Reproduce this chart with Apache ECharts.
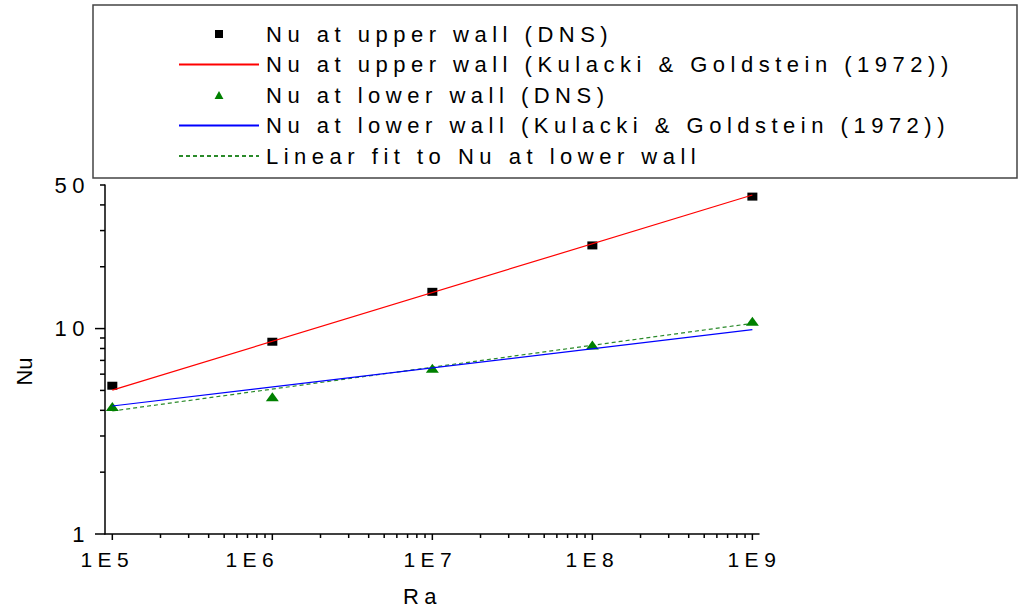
<!DOCTYPE html>
<html><head><meta charset="utf-8">
<script src="https://cdn.jsdelivr.net/npm/echarts@6/dist/echarts.min.js"></script>
<style>
html,body{margin:0;padding:0;background:#fff;}
#chart{width:1019px;height:612px;}
#chart text{letter-spacing:5.5px;}
</style></head><body><div id="chart"></div>
<script>
// ---- data ----
const raValues   = [1e5, 1e6, 1e7, 1e8, 1e9];
const nuUpperDNS = [5.27, 8.63, 15.1, 25.4, 43.9];
const nuLowerDNS = [4.17, 4.66, 6.41, 8.32, 10.85];
const kgRa       = [1e5, 1e9];
const nuUpperKG  = [5.02, 44.7];
const nuLowerKG  = [4.2, 9.88];
const fitRa      = [1e5, 1e9];
const nuLowerFit = [3.97, 10.6];

const seriesNames = [
  'Nu at upper wall (DNS)',
  'Nu at upper wall (Kulacki & Goldstein (1972))',
  'Nu at lower wall (DNS)',
  'Nu at lower wall (Kulacki & Goldstein (1972))',
  'Linear fit to Nu at lower wall'
];

// ---- axis ticks / labels ----
const xTickValues = [1e5, 1e6, 1e7, 1e8, 1e9];
const xTickLabels = ['1E5', '1E6', '1E7', '1E8', '1E9'];
const xLabelStyleKeys = ['a', 'b', 'c', 'd', 'e'];
const yTickValues = [1, 10, 50];
const yTickLabels = ['1', '10', '50'];
const xMinorMantissa = [2, 3, 4, 5, 6, 7, 8, 9];
const xMinorDecades = [1e5, 1e6, 1e7, 1e8];
const yMajorTicks = [1, 10];
const yMinorTicks = [2, 3, 4, 5, 6, 7, 8, 9, 20, 30, 40, 50];

const X_MIN = 9e4, X_MAX = 1.1e9, Y_MIN = 1, Y_MAX = 50;
const FONT = 'Liberation Sans, Arial, sans-serif';

function pairs(xs, ys) { return xs.map((x, i) => [x, ys[i]]); }
function findIndex(vals, v) {
  for (let i = 0; i < vals.length; i++) {
    if (Math.abs(v - vals[i]) / vals[i] < 1e-6) return i;
  }
  return -1;
}

const xTickData = [];
xTickValues.forEach(v => xTickData.push([v, Y_MIN, 6]));
xMinorDecades.forEach(d => xMinorMantissa.forEach(m => xTickData.push([m * d, Y_MIN, 4])));
const yTickData = [];
yMajorTicks.forEach(v => yTickData.push([X_MIN, v, 10]));
yMinorTicks.forEach(v => yTickData.push([X_MIN, v, 5]));

const xLabelBase = {fontSize: 21, color: '#000', fontFamily: FONT};
const xLabelRich = {
  a: Object.assign({padding: [0, 10, 0, 0]}, xLabelBase),
  b: Object.assign({padding: [0, 40, 0, 0]}, xLabelBase),
  c: Object.assign({padding: [0, 4, 0, 0]}, xLabelBase),
  d: Object.assign({padding: [0, 0, 0, 0]}, xLabelBase),
  e: Object.assign({padding: [0, 0, 0, 4]}, xLabelBase)
};

const SQUARE_ICON = 'path://M0,0L10,0L10,10L0,10Z';
const TRIANGLE_ICON = 'path://M5,0L10,9L0,9Z';
const hiddenSymbol = {color: 'rgba(0,0,0,0)', opacity: 0, borderWidth: 0};

const chart = echarts.init(document.getElementById('chart'), null, {renderer: 'svg'});
chart.setOption({
  animation: false,
  backgroundColor: '#fff',
  textStyle: {fontFamily: FONT},
  grid: {left: 105, right: 260, top: 185, bottom: 78},
  graphic: [{
    type: 'rect', z: -10,
    shape: {x: 93, y: 5, width: 924, height: 173},
    style: {fill: 'none', stroke: '#444', lineWidth: 1.5}
  }],
  legend: {
    orient: 'vertical', left: 178, top: 23, padding: 0,
    itemWidth: 80, itemHeight: 8, itemGap: 8.5,
    symbolKeepAspect: true,
    data: [
      {name: seriesNames[0], icon: SQUARE_ICON},
      {name: seriesNames[1], itemStyle: hiddenSymbol},
      {name: seriesNames[2], icon: TRIANGLE_ICON},
      {name: seriesNames[3], itemStyle: hiddenSymbol},
      {name: seriesNames[4], itemStyle: hiddenSymbol}
    ],
    textStyle: {fontSize: 22, fontFamily: FONT, color: '#000', lineHeight: 22, padding: [0, 0, 0, 2]}
  },
  xAxis: {
    type: 'log', min: X_MIN, max: X_MAX,
    name: 'Ra', nameLocation: 'middle', nameGap: 51,
    nameTextStyle: {fontSize: 22, color: '#000', fontFamily: FONT, padding: [0, 19, 0, 0]},
    axisLine: {lineStyle: {color: '#000', width: 1.5}},
    axisTick: {show: false},
    splitLine: {show: false},
    minorTick: {show: false},
    axisLabel: {
      fontSize: 21, color: '#000', fontFamily: FONT, margin: 15,
      rich: xLabelRich,
      formatter: function (v) {
        const i = findIndex(xTickValues, v);
        return i < 0 ? '' : '{' + xLabelStyleKeys[i] + '|' + xTickLabels[i] + '}';
      }
    }
  },
  yAxis: {
    type: 'log', min: Y_MIN, max: Y_MAX,
    name: 'Nu', nameLocation: 'middle', nameGap: 70,
    nameTextStyle: {fontSize: 22, color: '#000', fontFamily: FONT, padding: [0, 24, 0, 0]},
    axisLine: {lineStyle: {color: '#000', width: 1.5}},
    axisTick: {show: false},
    splitLine: {show: false},
    minorTick: {show: false},
    axisLabel: {
      fontSize: 22, color: '#000', fontFamily: FONT, margin: 15,
      formatter: function (v) {
        const i = findIndex(yTickValues, v);
        return i < 0 ? '' : yTickLabels[i];
      }
    }
  },
  series: [
    {
      name: seriesNames[0], type: 'scatter', z: 3,
      symbol: 'rect', symbolSize: [10, 8],
      itemStyle: {color: '#000', opacity: 1},
      data: pairs(raValues, nuUpperDNS)
    },
    {
      name: seriesNames[1], type: 'line', z: 4, symbol: 'none',
      lineStyle: {color: '#ff0000', width: 1.2},
      itemStyle: {color: '#ff0000'},
      data: pairs(kgRa, nuUpperKG)
    },
    {
      name: seriesNames[2], type: 'scatter', z: 3,
      symbol: 'triangle', symbolSize: [13, 9],
      itemStyle: {color: '#008000', opacity: 1},
      data: pairs(raValues, nuLowerDNS)
    },
    {
      name: seriesNames[3], type: 'line', z: 4, symbol: 'none',
      lineStyle: {color: '#0000ff', width: 1.2},
      itemStyle: {color: '#0000ff'},
      data: pairs(kgRa, nuLowerKG)
    },
    {
      name: seriesNames[4], type: 'line', z: 2, symbol: 'none',
      lineStyle: {color: '#2a8a2a', width: 1.2, type: [4, 3]},
      itemStyle: {color: '#2a8a2a'},
      data: pairs(fitRa, nuLowerFit)
    },
    {
      type: 'custom', z: 5, silent: true,
      encode: {x: 0, y: 1},
      data: xTickData,
      renderItem: function (params, api) {
        const p = api.coord([api.value(0), api.value(1)]);
        const len = api.value(2);
        return {type: 'line', shape: {x1: p[0], y1: p[1], x2: p[0], y2: p[1] + len},
                style: {stroke: '#000', lineWidth: 1.5}};
      }
    },
    {
      type: 'custom', z: 5, silent: true,
      encode: {x: 0, y: 1},
      data: yTickData,
      renderItem: function (params, api) {
        const p = api.coord([api.value(0), api.value(1)]);
        const len = api.value(2);
        return {type: 'line', shape: {x1: p[0] - len, y1: p[1], x2: p[0], y2: p[1]},
                style: {stroke: '#000', lineWidth: 1.5}};
      }
    }
  ]
});

// the rotated axis title is drawn without extra letter spacing
document.querySelectorAll('#chart text').forEach(t => {
  if (t.textContent === 'Nu') t.style.letterSpacing = '0px';
});
</script>
</body></html>
